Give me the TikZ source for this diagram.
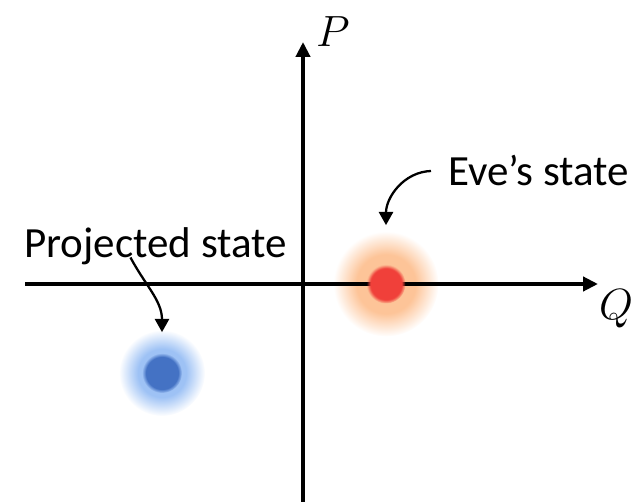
\documentclass[tikz,border=0pt]{standalone}
\usepackage{fontspec}
\setmainfont{Carlito}
\usepackage{tikz}
\usetikzlibrary{positioning,arrows.meta,fadings}

\pgfdeclareradialshading{softblobshade}{\pgfpointorigin}{color(0bp)=(pgftransparent!0); color(14bp)=(pgftransparent!0); color(25bp)=(pgftransparent!100); color(50bp)=(pgftransparent!100)}
\pgfdeclarefading{softblob}{\pgfuseshading{softblobshade}}

\definecolor{evepeach}{RGB}{253,196,152}
\definecolor{evered}{RGB}{240,64,58}
\definecolor{projsky}{RGB}{158,194,245}
\definecolor{projblue}{RGB}{68,114,196}

\begin{document}
\begin{tikzpicture}[x=0.02cm,y=-0.02cm,
  axis/.style={line width=2.2pt,-{Triangle[length=8.5pt,width=8pt]}},
  pointer/.style={line width=1.3pt,-{Triangle[length=7.5pt,width=8pt]}},
  lbl/.style={font=\fontsize{24.5}{29}\selectfont,inner sep=1pt},
  sym/.style={font=\fontsize{26}{30}\selectfont,inner sep=0pt},
  glow/.style={circle,minimum size=#1,inner sep=0pt,path fading=softblob,blend mode=multiply},
  core/.style={circle,minimum size=#1,inner sep=0pt,path fading=circle with fuzzy edge 20 percent}]
\useasboundingbox (0,0) rectangle (644,502);
% axes
\coordinate (ql) at (25,284); \coordinate (qr) at (598,284);
\coordinate (pb) at (303,502); \coordinate (pt) at (303,42);
\draw[axis] (ql) -- (qr);
\draw[axis] (pb) -- (pt);
\node[sym] (P) at (333,32) {$P$};
\node[sym] (Q) at (616,309) {$Q$};
% states
\node[glow=2.1cm,fill=evepeach] (eve) at (386,284) {};
\node[core=0.78cm,fill=evered] (evec) at (386,284) {};
\node[glow=1.72cm,fill=projsky] (proj) at (162,373) {};
\node[core=0.8cm,fill=projblue] (projc) at (162,373) {};
% labels
\node[lbl,anchor=base west] (evetxt) at (446,186) {Eve’s state};
\node[lbl,anchor=base west] (projtxt) at (22,258) {Projected state};
\draw[pointer] ([xshift=-0.3cm]evetxt.west) to[out=182,in=90] ([yshift=0.12cm]eve.north);
\draw[pointer] ([xshift=-0.5cm,yshift=0.2cm]projtxt.south) to[out=-62,in=90] ([yshift=-0.05cm]proj.north);
\end{tikzpicture}
\end{document}
